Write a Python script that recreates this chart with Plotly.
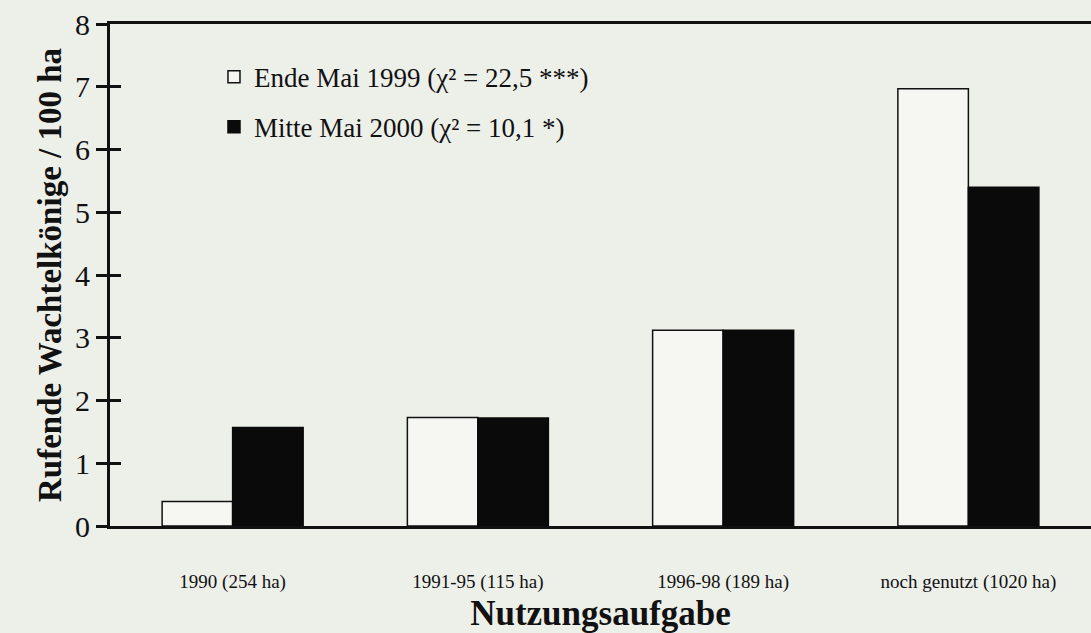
import plotly.graph_objects as go

categories = ["1990 (254 ha)", "1991-95 (115 ha)", "1996-98 (189 ha)", "noch genutzt (1020 ha)"]
ende_mai_1999 = [0.39, 1.73, 3.12, 6.97]
mitte_mai_2000 = [1.57, 1.72, 3.12, 5.40]
name_1999 = "Ende Mai 1999 (\u03c7\u00b2 = 22,5 ***)"
name_2000 = "Mitte Mai 2000 (\u03c7\u00b2 = 10,1 *)"
y_ticks = [0, 1, 2, 3, 4, 5, 6, 7, 8]

bg = "#edefe9"
serif = "Liberation Serif, Times New Roman, serif"

fig = go.Figure()
fig.add_trace(go.Bar(
    x=categories, y=ende_mai_1999, name=name_1999, legendgroup="a",
    marker=dict(color="#f6f7f3", line=dict(color="#111111", width=1.5)),
))
fig.add_trace(go.Bar(
    x=categories, y=mitte_mai_2000, name=name_2000, legendgroup="b",
    marker=dict(color="#0a0a0a", line=dict(color="#0a0a0a", width=1.5)),
))
# invisible helper trace so the overlaid tick axis is drawn
fig.add_trace(go.Scatter(x=[categories[0]], y=[0], yaxis="y2", mode="markers",
                         marker=dict(opacity=0), showlegend=False, hoverinfo="skip"))

fig.update_layout(
    width=1091, height=633,
    paper_bgcolor=bg, plot_bgcolor=bg,
    margin=dict(l=110, r=0, t=24, b=107),
    barmode="group", bargap=0.425, bargroupgap=0,
    font=dict(family=serif, color="#111111"),
    showlegend=True,
    legend=dict(
        x=0.106, y=0.943, xanchor="left", yanchor="top",
        bgcolor="rgba(0,0,0,0)", font=dict(size=27, family=serif),
        traceorder="grouped", tracegroupgap=12, itemwidth=30,
    ),
    xaxis=dict(
        showline=True, linecolor="#111111", linewidth=3, mirror=True,
        ticks="", tickfont=dict(size=19, family=serif), ticklabelstandoff=36,
        title=dict(text="<b>Nutzungsaufgabe</b>", font=dict(size=35, family=serif), standoff=16),
        showgrid=False, zeroline=False,
    ),
    yaxis=dict(
        range=[0, 8], tickvals=y_ticks, showline=True, linecolor="#111111", linewidth=3,
        ticks="outside", ticklen=11, tickwidth=3, tickcolor="#111111",
        tickfont=dict(size=30, family=serif),
        title=dict(text="<b>Rufende Wachtelkönige / 100 ha</b>", font=dict(size=33, family=serif), standoff=4),
        showgrid=False, zeroline=False,
    ),
    yaxis2=dict(
        range=[0, 8], tickvals=y_ticks, overlaying="y", side="left",
        ticks="inside", ticklen=11, tickwidth=3, tickcolor="#111111",
        showticklabels=False, showline=False, showgrid=False, zeroline=False,
    ),
)

fig.write_html(
    "out.html",
    config={"displayModeBar": False},
    post_script="document.body.style.margin='0';document.body.style.overflow='hidden';",
)
